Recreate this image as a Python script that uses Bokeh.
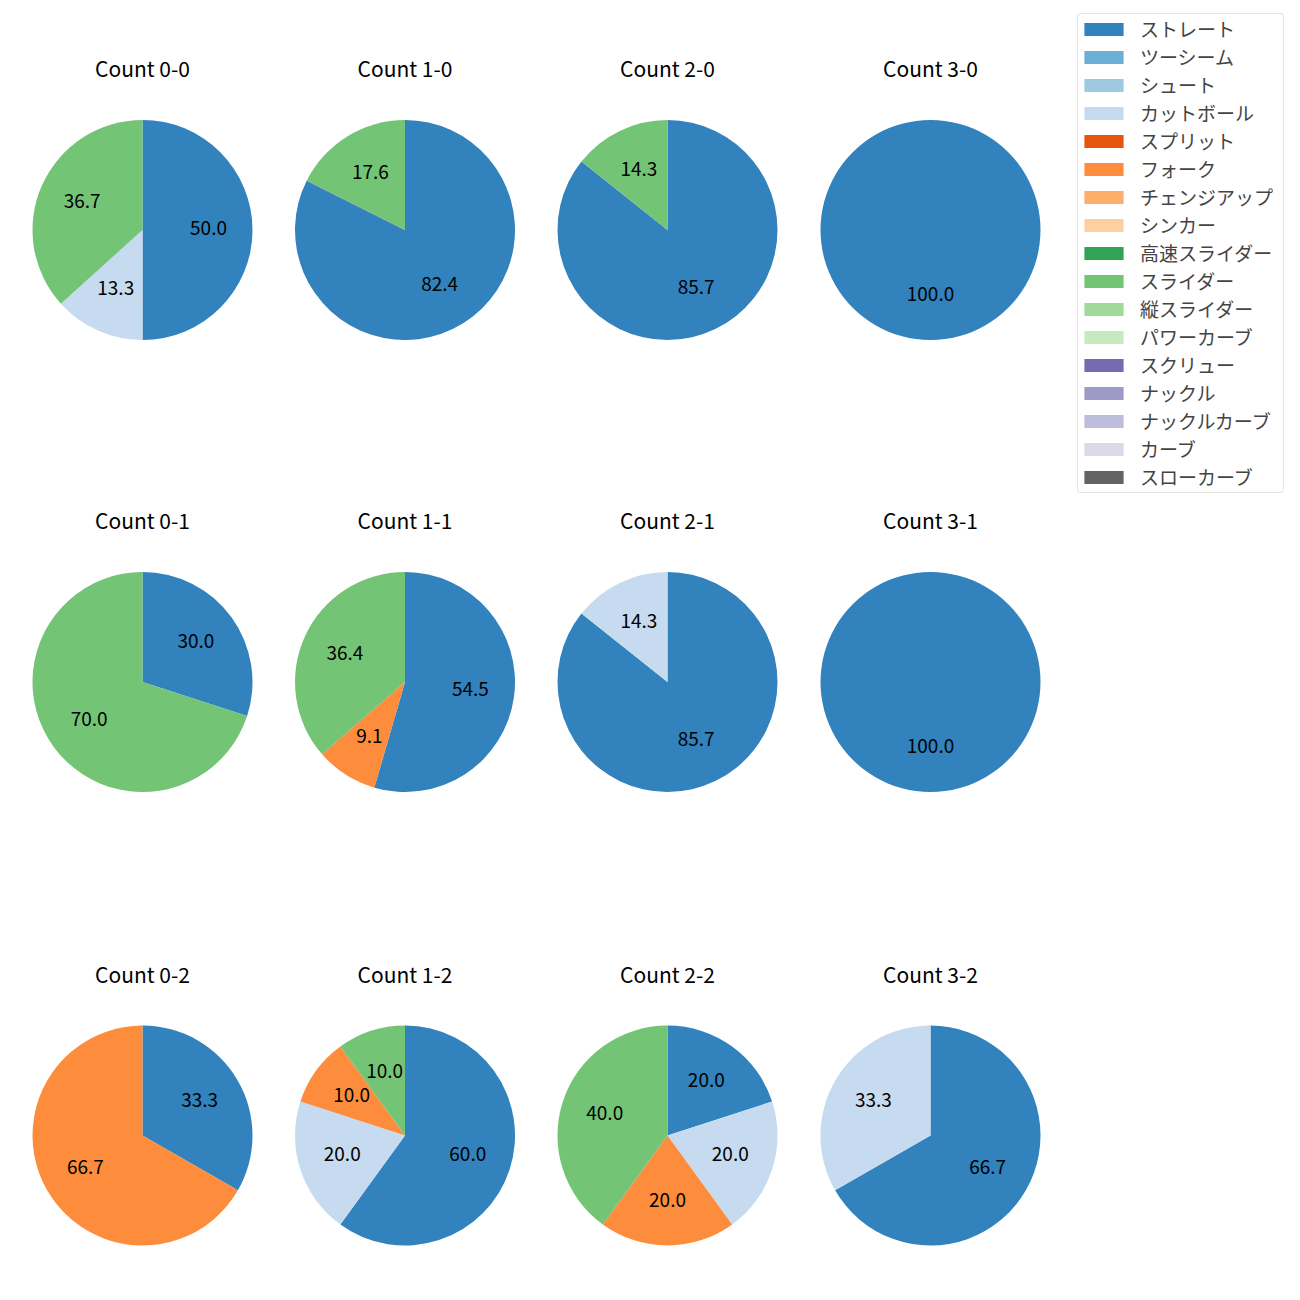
import math
from bokeh.plotting import figure
from bokeh.models import ColumnDataSource, Range1d, Legend, LegendItem
from bokeh.core.properties import value
from bokeh.embed import file_html
from bokeh.resources import INLINE

# ---- data ----
pitch_types = ["ストレート", "ツーシーム", "シュート", "カットボール", "スプリット", "フォーク",
               "チェンジアップ", "シンカー", "高速スライダー", "スライダー", "縦スライダー",
               "パワーカーブ", "スクリュー", "ナックル", "ナックルカーブ", "カーブ", "スローカーブ"]
colors = ["#3182bd", "#6baed6", "#9ecae1", "#c6dbef", "#e6550d", "#fd8d3c", "#fdae6b", "#fdd0a2",
          "#31a354", "#74c476", "#a1d99b", "#c7e9c0", "#756bb1", "#9e9ac8", "#bcbddc", "#dadaeb",
          "#636363"]

counts = ["0-0", "1-0", "2-0", "3-0", "0-1", "1-1", "2-1", "3-1", "0-2", "1-2", "2-2", "3-2"]
# percentage share per pitch type, in the order of `counts`
straight = [50.0, 82.4, 85.7, 100.0, 30.0, 54.5, 85.7, 100.0, 33.3, 60.0, 20.0, 66.7]
cutball  = [13.3, 0.0, 0.0, 0.0, 0.0, 0.0, 14.3, 0.0, 0.0, 20.0, 20.0, 33.3]
fork     = [0.0, 0.0, 0.0, 0.0, 0.0, 9.1, 0.0, 0.0, 66.7, 10.0, 20.0, 0.0]
slider   = [36.7, 17.6, 14.3, 0.0, 70.0, 36.4, 0.0, 0.0, 0.0, 10.0, 40.0, 0.0]
series = {"ストレート": straight, "カットボール": cutball, "フォーク": fork, "スライダー": slider}

# ---- layout (page pixels) ----
W = H = 1284
COL_X = [142.0, 404.5, 667.0, 930.0]
ROW_Y = [229.5, 681.5, 1135.0]
R = 110.0
TITLE_DY = 162.0
LABEL_LIFT = 2.0
FONT = "Noto Sans CJK JP"

def ydata(page_y):
    return 1300 - page_y

p = figure(width=W, height=H, output_backend="svg", toolbar_location=None,
           x_range=Range1d(0, W), y_range=Range1d(1300 - H, 1300),
           min_border=0, outline_line_color=None)
p.axis.visible = False
p.grid.visible = False

srcs = {t: dict(x=[], y=[], start=[], end=[]) for t in pitch_types}
lab = dict(x=[], y=[], text=[])
ttl = dict(x=[], y=[], text=[])

for i, c in enumerate(counts):
    b, s = int(c[0]), int(c[2])
    cx, cy = COL_X[b], ydata(ROW_Y[s])
    total = sum(series[t][i] for t in series)
    cum = 0.0
    for t in pitch_types:
        if t not in series:
            continue
        v = series[t][i]
        if v <= 0:
            continue
        f0, f1 = cum / total, (cum + v) / total
        cum += v
        a_start = math.radians(90 - 360 * f1)
        a_end = math.radians(90 - 360 * f0)
        if f1 - f0 > 0.9999:
            a_end = a_start + 2 * math.pi * 0.99999
        srcs[t]["x"].append(cx)
        srcs[t]["y"].append(cy)
        srcs[t]["start"].append(a_start)
        srcs[t]["end"].append(a_end)
        mid = (a_start + a_end) / 2
        lab["x"].append(cx + 0.6 * R * math.cos(mid))
        lab["y"].append(cy + 0.6 * R * math.sin(mid) + LABEL_LIFT)
        lab["text"].append(f"{v:.1f}")
    ttl["x"].append(cx)
    ttl["y"].append(cy + TITLE_DY)
    ttl["text"].append(f"Count {c}")

items = []
nan = float("nan")
for t, col in zip(pitch_types, colors):
    d = srcs[t]
    if not d["x"]:
        d = dict(x=[nan], y=[nan], start=[0.0], end=[0.0])
    r = p.wedge(x="x", y="y", radius=R, start_angle="start", end_angle="end",
                direction="anticlock", fill_color=col, line_color=None,
                source=ColumnDataSource(d))
    items.append(LegendItem(label=t, renderers=[r]))

p.text(x="x", y="y", text="text", source=ColumnDataSource(lab), text_align="center",
       text_baseline="middle", text_font=value(FONT), text_font_size="19px", text_color="#000000")
p.text(x="x", y="y", text="text", source=ColumnDataSource(ttl), text_align="center",
       text_baseline="middle", text_font=value(FONT), text_font_size="21px", text_color="#000000")

legend = Legend(items=items, location=(1077, H - 492.5))
legend.label_text_font = FONT
legend.label_text_font_size = "19px"
legend.glyph_width = 49
legend.glyph_height = 16
legend.label_height = 28
legend.label_width = 142
legend.label_standoff = 12
legend.spacing = 0
legend.padding = 1
legend.margin = 0
legend.border_line_color = "#cccccc"
legend.border_line_width = 1
legend.background_fill_color = "white"
legend.background_fill_alpha = 1.0
if "border_radius" in legend.properties():
    legend.border_radius = 4
p.add_layout(legend)

open("out.html", "w").write(file_html(p, INLINE))
